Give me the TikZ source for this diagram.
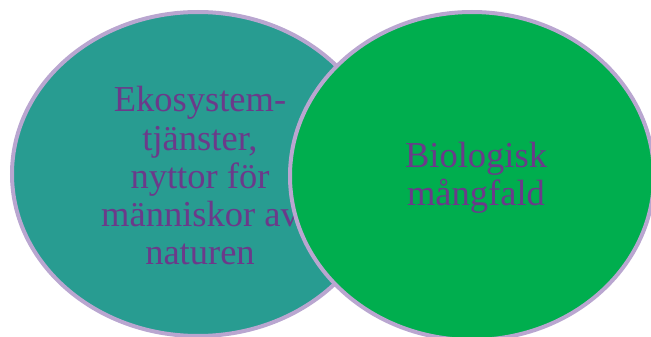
\documentclass[tikz,border=0pt]{standalone}
\usepackage{fontspec}
\setmainfont{Liberation Serif}
\usetikzlibrary{shapes.geometric}
\definecolor{ekoteal}{HTML}{289C91}
\definecolor{biogreen}{HTML}{00AE4E}
\definecolor{rimlilac}{HTML}{B9A6D0}
\definecolor{textpurple}{HTML}{6B3A8A}
\tikzset{
  blob/.style={ellipse,draw=rimlilac,line width=4pt,inner sep=0pt},
  blobtext/.style={text=textpurple,align=center,inner sep=0pt,
    font=\fontsize{36.5}{38.25}\selectfont}
}
\begin{document}
\begin{tikzpicture}[x=1pt,y=-1pt]
    \useasboundingbox (0,0) rectangle (651,337);
    \node [blob,fill=ekoteal,minimum width=372pt,minimum height=324pt] (eko) at (198,174) {};
    \node [blobtext] (ekotext) at (200,176) {Ekosystem-\\tjänster,\\nyttor för\\människor av\\naturen};
    \node [blob,fill=biogreen,minimum width=364pt,minimum height=328pt] (bio) at (472,176) {};
    \node [blobtext] (biotext) at (476,178) {Biologisk\\mångfald};
\end{tikzpicture}
\end{document}
